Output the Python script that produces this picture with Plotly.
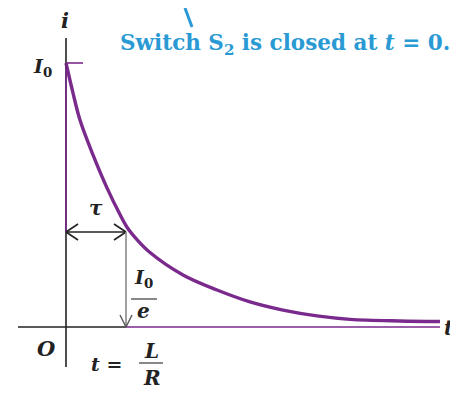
import plotly.graph_objects as go

# current decay: t in units of tau, i in units of I0
t_vals = [0.0, 0.117, 0.233, 0.45, 0.683, 0.9, 1.017, 1.183, 1.4, 1.95, 2.517,
          3.067, 3.617, 4.183, 4.733, 5.567, 6.233]
i_vals = [1.0, 0.886, 0.784, 0.652, 0.527, 0.426, 0.378, 0.331, 0.282, 0.197, 0.140,
          0.095, 0.064, 0.042, 0.029, 0.023, 0.021]

tau = 1.0
i_over_e = 0.36

# page is offset by the body margin, so the figure is 8px smaller
PAGE_W, PAGE_H, PAD = 458, 393, 8
X0, Y0 = 66, 327      # page pixel position of the origin
SX, SY = 60, 264      # pixels per tau / per I0


def dx(px):
    return (px - X0) / SX


def dy(py):
    return (Y0 - py) / SY


PURPLE = "#7a2a8c"
DARK = "#222222"
BLUE = "#2a9ad4"
SERIF = "DejaVu Serif, serif"

fig = go.Figure()
fig.add_trace(go.Scatter(x=t_vals, y=i_vals, mode="lines",
                         line=dict(color=PURPLE, width=3.4, shape="spline", smoothing=1.0),
                         hoverinfo="skip"))

shapes = []


def seg(x0, y0, x1, y1, color, width):
    shapes.append(dict(type="line", xref="x", yref="y", x0=x0, y0=y0, x1=x1, y1=y1,
                       line=dict(color=color, width=width)))


# axes
seg(dx(18), 0, tau, 0, DARK, 1.6)
seg(tau, 0, t_vals[-1], 0, PURPLE, 1.6)
seg(0, dy(38), 0, dy(367), DARK, 1.6)
seg(0, 1.0, 0, i_over_e, PURPLE, 1.6)
# I0 tick
seg(0, 1.0, dx(83), 1.0, PURPLE, 1.6)

# tau double arrow
seg(0, i_over_e, tau, i_over_e, DARK, 1.4)
hl, hw = 12 / SX, 8 / SY
seg(0, i_over_e, hl, i_over_e + hw, DARK, 1.6)
seg(0, i_over_e, hl, i_over_e - hw, DARK, 1.6)
seg(tau, i_over_e, tau - hl, i_over_e + hw, DARK, 1.6)
seg(tau, i_over_e, tau - hl, i_over_e - hw, DARK, 1.6)

# I0/e drop arrow
seg(tau, i_over_e, tau, 0, "#8a8a8a", 1.6)
seg(tau, 0, tau - 6 / SX, 12 / SY, "#555555", 1.4)
seg(tau, 0, tau + 6 / SX, 12 / SY, "#555555", 1.4)

# fraction bars
seg(dx(131), dy(299), dx(157), dy(299), "#555555", 1.4)
seg(dx(139), dy(363), dx(163), dy(363), "#555555", 1.4)

# pointer tick from the switch in the larger figure
seg(dx(185), dy(8), dx(192), dy(27), BLUE, 3)

ann = []


def label(px, py, text, size=20, color=DARK, xanchor="center"):
    ann.append(dict(x=dx(px), y=dy(py), xref="x", yref="y", text=text, showarrow=False,
                    xanchor=xanchor, yanchor="middle",
                    font=dict(family=SERIF, size=size, color=color)))


label(65, 20, "<b><i>i</i></b>", 21)
label(42, 67, "<b><i>I</i><sub>0</sub></b>", 19)
label(96, 208, "<b><i>τ</i></b>", 20)
label(143, 278, "<b><i>I</i><sub>0</sub></b>", 19)
label(143, 311, "<b><i>e</i></b>", 20)
label(46, 348, "<b><i>O</i></b>", 21)
label(106, 364, "<b><i>t</i> =</b>", 19)
label(151, 351, "<b><i>L</i></b>", 20)
label(152, 378, "<b><i>R</i></b>", 20)
label(449, 328, "<b><i>t</i></b>", 20)
label(118, 44, "<b>Switch S<sub>2</sub> is closed at <i>t</i> = 0.</b>", 21.5, BLUE, "left")

fig.update_layout(
    width=PAGE_W - PAD, height=PAGE_H - PAD,
    margin=dict(l=0, r=0, t=0, b=0),
    paper_bgcolor="white", plot_bgcolor="white",
    showlegend=False,
    shapes=shapes, annotations=ann,
    xaxis=dict(range=[dx(PAD), dx(PAGE_W)], visible=False, fixedrange=True),
    yaxis=dict(range=[dy(PAGE_H), dy(PAD)], visible=False, fixedrange=True),
)

fig.write_html("out.html")
